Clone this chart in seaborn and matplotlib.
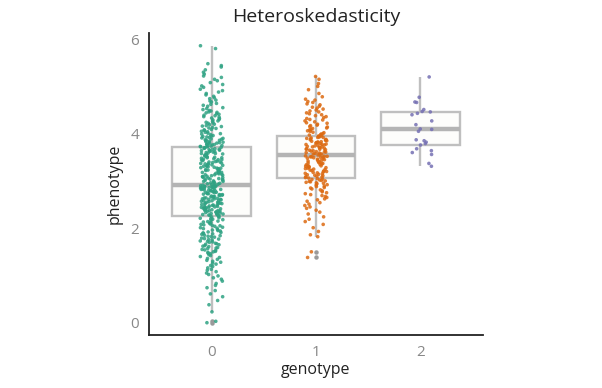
import matplotlib
matplotlib.use("Agg")
import matplotlib.pyplot as plt
import seaborn as sns
import pandas as pd

# ---------------- data ----------------
genotypes = ["0", "1", "2"]

pheno_g0 = [
    0.00, 0.03, 0.23, 0.38, 0.47,
    0.55, 0.61, 0.68, 0.74, 0.79, 0.83, 0.88, 0.92, 0.95, 0.99,
    1.02, 1.05, 1.08, 1.11, 1.13, 1.16, 1.19, 1.21, 1.24, 1.26, 1.28,
    1.30, 1.32, 1.34, 1.36, 1.38, 1.40, 1.42, 1.44, 1.46, 1.47, 1.49,
    1.50, 1.51, 1.53, 1.54, 1.55, 1.57, 1.58, 1.59, 1.61, 1.62,
    1.63, 1.65, 1.66, 1.67, 1.68, 1.70, 1.71, 1.72, 1.73, 1.75,
    1.76, 1.77, 1.78, 1.79, 1.81, 1.82, 1.83, 1.84, 1.85, 1.87,
    1.88, 1.89, 1.90, 1.91, 1.92, 1.94, 1.95, 1.96, 1.97, 1.99,
    2.00, 2.01, 2.02, 2.04, 2.05, 2.06, 2.07, 2.08, 2.09, 2.11,
    2.12, 2.13, 2.14, 2.15, 2.17, 2.18, 2.19, 2.20, 2.21, 2.22,
    2.24, 2.25, 2.26,
    2.27, 2.27, 2.28, 2.29, 2.29, 2.30, 2.31, 2.31, 2.32, 2.33,
    2.34, 2.34, 2.35, 2.36, 2.37, 2.37, 2.38, 2.39, 2.40, 2.40,
    2.41, 2.42, 2.43, 2.43, 2.44, 2.45, 2.46, 2.46, 2.47, 2.48,
    2.49, 2.49, 2.50, 2.51, 2.52, 2.52, 2.53, 2.54, 2.55, 2.55,
    2.56, 2.57, 2.58, 2.58, 2.59, 2.60, 2.61, 2.61, 2.62, 2.63,
    2.64, 2.64, 2.65, 2.66, 2.67, 2.67, 2.68, 2.69, 2.70, 2.70,
    2.71, 2.72, 2.73, 2.73, 2.74, 2.75, 2.76, 2.76, 2.77, 2.78,
    2.79, 2.79, 2.80, 2.81, 2.82, 2.82, 2.83, 2.84, 2.85, 2.85,
    2.86, 2.86, 2.87, 2.87, 2.88, 2.88, 2.89, 2.89, 2.90, 2.90,
    2.30, 2.36, 2.44, 2.53, 2.62, 2.71, 2.80, 2.84, 2.88, 2.91,
    2.92, 2.93, 2.94, 2.95, 2.96, 2.97, 2.98, 2.99, 3.00, 3.01,
    3.02, 3.03, 3.04, 3.05, 3.06, 3.07, 3.08, 3.09, 3.10, 3.11,
    3.12, 3.13, 3.14, 3.15, 3.16, 3.17, 3.18, 3.19, 3.20, 3.21,
    3.22, 3.23, 3.24, 3.25, 3.26, 3.27, 3.28, 3.29, 3.30, 3.31,
    3.32, 3.33, 3.34, 3.35, 3.36, 3.37, 3.38, 3.39, 3.40, 3.41,
    3.42, 3.43, 3.44, 3.45, 3.46, 3.47, 3.48, 3.49, 3.50, 3.51,
    3.52, 3.53, 3.54, 3.55, 3.56, 3.57, 3.58, 3.59, 3.60, 3.61,
    3.62, 3.63, 3.64, 3.65, 3.66, 3.67, 3.68, 3.69, 3.70, 3.71,
    3.72, 2.95, 2.99, 3.04, 3.09, 3.13, 3.18, 3.22, 3.27, 3.31,
    3.36, 3.40, 3.45, 3.49, 3.54, 3.58, 3.63, 3.67, 3.70, 3.72,
    3.73, 3.74, 3.74, 3.75, 3.76, 3.77, 3.77, 3.78, 3.79, 3.80,
    3.81, 3.81, 3.82, 3.83, 3.84, 3.85, 3.86, 3.86, 3.87, 3.88,
    3.89, 3.90, 3.91, 3.92, 3.93, 3.94, 3.95, 3.96, 3.98, 3.99,
    4.00, 4.01, 4.03, 4.04, 4.05, 4.07, 4.08, 4.09, 4.11, 4.12,
    4.13, 4.15, 4.16, 4.17, 4.19, 4.20, 4.22, 4.23, 4.24, 4.26,
    4.27, 4.29, 4.30, 4.32, 4.33, 4.35, 4.36, 4.38, 4.39, 4.41,
    4.42, 4.44, 4.45, 4.46, 4.48, 4.49,
    4.51, 4.53, 4.55, 4.58, 4.60, 4.62, 4.64, 4.67, 4.69, 4.71,
    4.74, 4.76, 4.79, 4.82, 4.85, 4.88, 4.91, 4.94, 4.98,
    5.01, 5.04, 5.08, 5.12, 5.15, 5.19, 5.22, 5.26, 5.30, 5.35,
    5.41, 5.44, 5.48, 5.80, 5.86,
]

pheno_g1 = [
    1.38, 1.50,
    1.82, 1.86, 1.93, 2.01, 2.08, 2.14, 2.19, 2.24, 2.30, 2.34,
    2.38, 2.42, 2.45, 2.48, 2.51, 2.54, 2.57, 2.60, 2.62, 2.65,
    2.67, 2.69, 2.71, 2.73, 2.75, 2.77, 2.79, 2.81, 2.83, 2.85,
    2.86, 2.88, 2.89, 2.91, 2.92, 2.94, 2.95, 2.96, 2.97, 2.98,
    2.99, 3.00, 3.01, 3.02, 3.03, 3.04, 3.05, 3.06,
    3.07, 3.08, 3.09, 3.10, 3.11, 3.12, 3.13, 3.14, 3.15, 3.16,
    3.17, 3.18, 3.19, 3.20, 3.21, 3.22, 3.23, 3.24, 3.25, 3.26,
    3.27, 3.28, 3.29, 3.30, 3.31, 3.32, 3.33, 3.34, 3.35, 3.36,
    3.37, 3.38, 3.39, 3.40, 3.41, 3.42, 3.43, 3.44, 3.45, 3.46,
    3.47, 3.48, 3.49, 3.50, 3.50, 3.51, 3.51, 3.52, 3.52, 3.53,
    3.55, 3.56, 3.57, 3.57, 3.58, 3.59, 3.60, 3.61, 3.62, 3.62,
    3.63, 3.64, 3.65, 3.66, 3.67, 3.67, 3.68, 3.69, 3.70, 3.71,
    3.72, 3.72, 3.73, 3.74, 3.75, 3.76, 3.77, 3.77, 3.78, 3.79,
    3.80, 3.81, 3.82, 3.82, 3.83, 3.84, 3.85, 3.86, 3.87, 3.87,
    3.88, 3.89, 3.90, 3.91, 3.92, 3.92, 3.93, 3.94, 3.95, 3.95,
    3.97, 3.98, 3.99, 4.00, 4.02, 4.03, 4.05, 4.06, 4.08, 4.09,
    4.11, 4.12, 4.14, 4.15, 4.17, 4.18, 4.20, 4.22, 4.23, 4.25,
    4.27, 4.29, 4.30, 4.32, 4.34, 4.36, 4.38, 4.40, 4.42, 4.44,
    4.46, 4.48, 4.50, 4.52, 4.54, 4.56, 4.58, 4.61, 4.63, 4.66,
    4.68, 4.71, 4.73, 4.78, 4.85, 4.93, 5.00, 5.06, 5.15, 5.21,
]

pheno_g2 = [
    3.31, 3.37, 3.56, 3.60, 3.64, 3.68, 3.76, 3.79, 3.82, 3.85,
    3.87, 4.05, 4.09, 4.10, 4.19, 4.27, 4.40, 4.43, 4.46, 4.47,
    4.51, 4.66, 4.67, 4.77, 5.20,
]

point_colors = ["#2fa283", "#dc6a12", "#7570b3"]
title = "Heteroskedasticity"
x_label = "genotype"
y_label = "phenotype"
y_ticks = [0, 2, 4, 6]

df = pd.DataFrame({
    "genotype": ([genotypes[0]] * len(pheno_g0)
                 + [genotypes[1]] * len(pheno_g1)
                 + [genotypes[2]] * len(pheno_g2)),
    "phenotype": pheno_g0 + pheno_g1 + pheno_g2,
})

# ---------------- plot ----------------
sns.set_style("white")
plt.rcParams["font.family"] = ["Open Sans", "DejaVu Sans"]

fig = plt.figure(figsize=(6.02, 3.88), dpi=100)
ax = fig.add_axes([0.2475, 0.1366, 0.5548, 0.7784])

grey = "#bfbfbf"
sns.boxplot(
    data=df, x="genotype", y="phenotype", order=genotypes, ax=ax,
    width=0.75, color="#fdfdfb", linecolor=grey, linewidth=1.7,
    fliersize=2.2, saturation=1,
    boxprops=dict(facecolor="#fdfdfb", edgecolor=grey),
    medianprops=dict(color="#b4b4b4", linewidth=3.2),
    whiskerprops=dict(color=grey, linewidth=1.7),
    capprops=dict(linewidth=0),
    flierprops=dict(marker="o", markerfacecolor="#9a9a9a",
                    markeredgecolor="#9a9a9a"),
)
sns.stripplot(
    data=df, x="genotype", y="phenotype", order=genotypes,
    hue="genotype", hue_order=genotypes, palette=point_colors,
    jitter=0.11, size=2.6, alpha=0.85, linewidth=0, legend=False, ax=ax,
)

ax.set_xlim(-0.6, 2.6)
ax.set_ylim(-0.26, 6.13)
ax.set_yticks(y_ticks)
ax.set_yticklabels([str(t) for t in y_ticks])

for side in ["top", "right"]:
    ax.spines[side].set_visible(False)
for side in ["left", "bottom"]:
    ax.spines[side].set_color("#222222")
    ax.spines[side].set_linewidth(1.3)

ax.tick_params(axis="both", which="major", length=3, width=0.8,
               color="#999999", labelcolor="#888888", labelsize=11, pad=4)
ax.set_xlabel(x_label, fontsize=11.5, color="#222222", labelpad=2)
ax.set_ylabel(y_label, fontsize=11.5, color="#222222", labelpad=6)
ax.set_title(title, fontsize=14, color="#222222", pad=8)

fig.savefig("out.png", dpi=100)
